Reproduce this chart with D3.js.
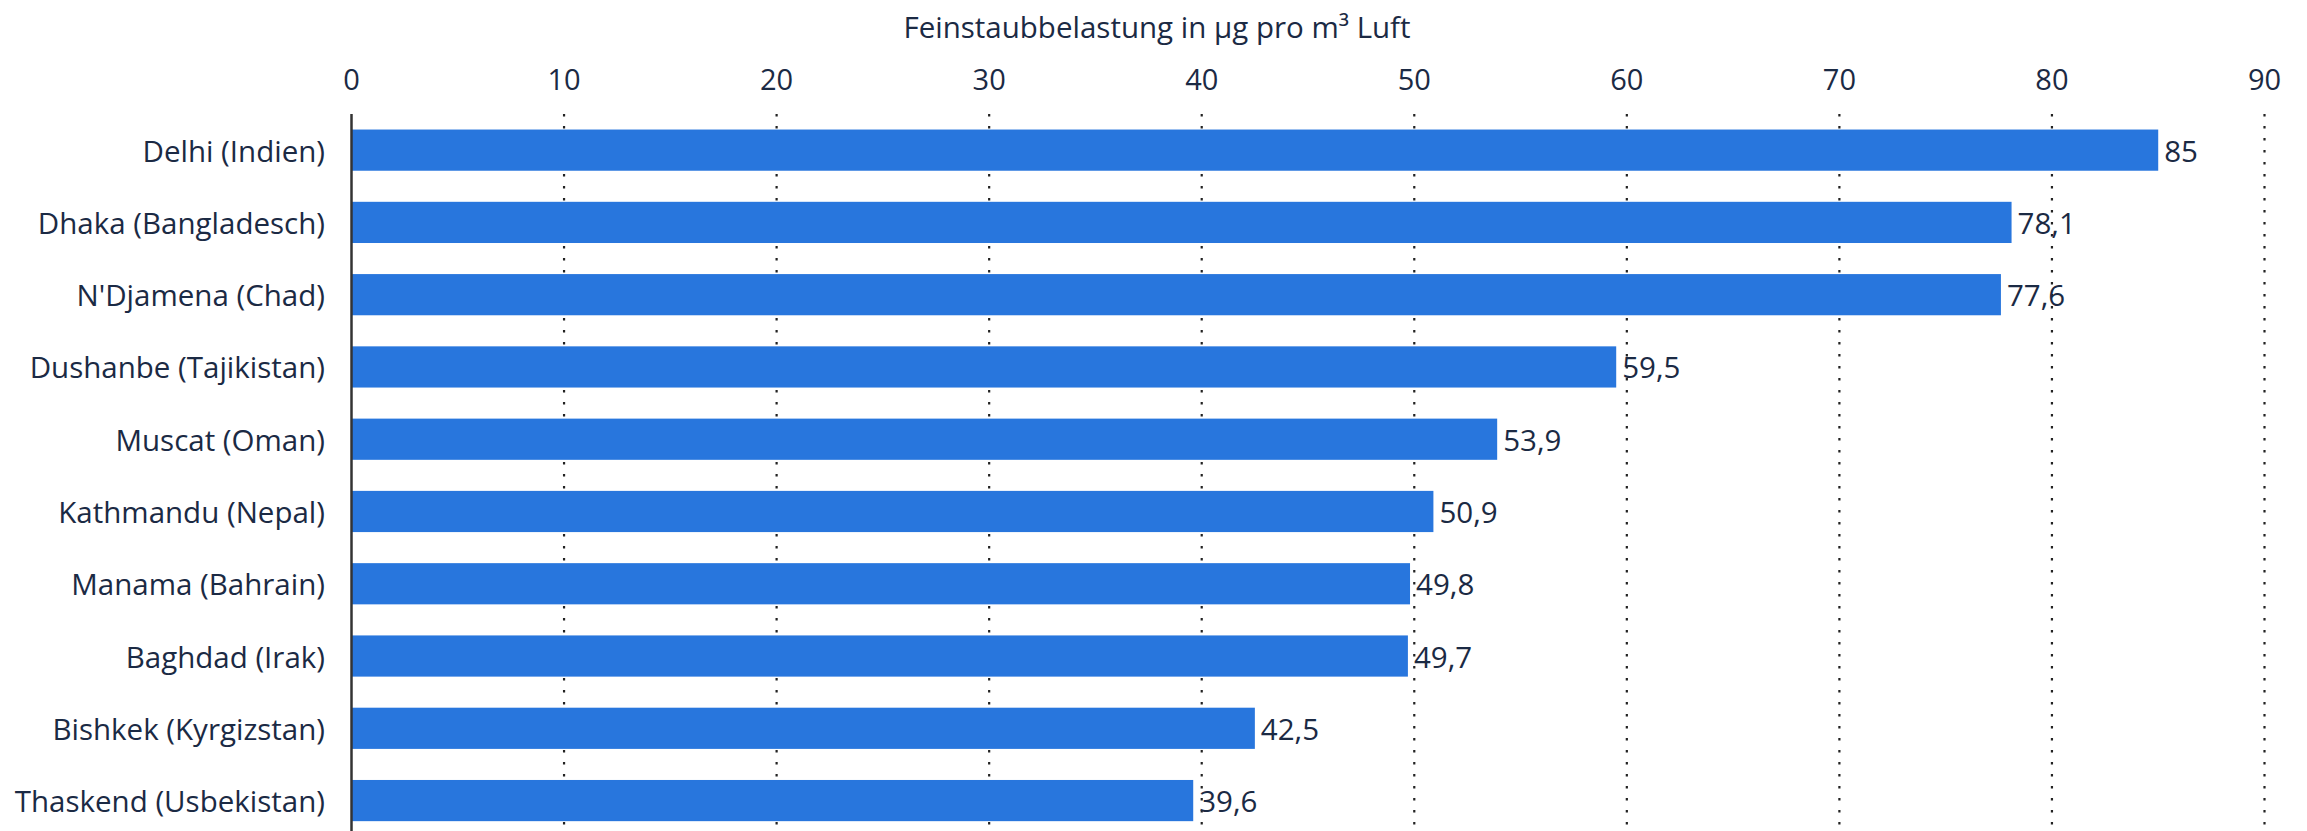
<!DOCTYPE html>
<html>
<head>
<meta charset="utf-8">
<script src="https://cdn.jsdelivr.net/npm/d3@7"></script>
<style>
  body { margin: 0; background: #fff; }
  text { font-family: "Open Sans", sans-serif; fill: #1b2a44; }
</style>
</head>
<body>
<div id="chart"></div>
<script>
const cities = ["Delhi (Indien)", "Dhaka (Bangladesch)", "N'Djamena (Chad)", "Dushanbe (Tajikistan)",
  "Muscat (Oman)", "Kathmandu (Nepal)", "Manama (Bahrain)", "Baghdad (Irak)",
  "Bishkek (Kyrgizstan)", "Thaskend (Usbekistan)"];
const values = [85, 78.1, 77.6, 59.5, 53.9, 50.9, 49.8, 49.7, 42.5, 39.6];
const xTicks = [0, 10, 20, 30, 40, 50, 60, 70, 80, 90];
const axisTitle = "Feinstaubbelastung in µg pro m³ Luft";

const W = 2307, H = 831;
const x0 = 351.5, x1 = 2264.5;

const svg = d3.select("#chart").append("svg")
  .attr("width", W).attr("height", H);

const x = d3.scaleLinear().domain([0, 90]).range([x0, x1]);
const y = d3.scaleBand().domain(cities).range([114, 836.7])
  .paddingInner(0.43).paddingOuter(0.215);

const fmt = v => String(v).replace(".", ",");

// dotted gridlines
svg.append("g").selectAll("line")
  .data(xTicks.slice(1))
  .join("line")
  .attr("x1", d => x(d)).attr("x2", d => x(d))
  .attr("y1", 114).attr("y2", H)
  .style("stroke", "#222")
  .style("stroke-width", 2.2)
  .style("stroke-dasharray", "2.5,9.5");

// top tick labels
svg.append("g").selectAll("text")
  .data(xTicks)
  .join("text")
  .attr("x", d => x(d))
  .attr("y", 78)
  .attr("text-anchor", "middle")
  .attr("dominant-baseline", "central")
  .style("font-size", "29px")
  .text(d => d);

svg.append("text")
  .attr("x", 1157)
  .attr("y", 26)
  .attr("text-anchor", "middle")
  .attr("dominant-baseline", "central")
  .style("font-size", "29.5px")
  .text(axisTitle);

// bars
svg.append("g").selectAll("rect")
  .data(values)
  .join("rect")
  .attr("x", x(0))
  .attr("y", (d, i) => y(cities[i]))
  .attr("width", d => x(d) - x(0))
  .attr("height", y.bandwidth())
  .style("fill", "#2876dd");

// value labels
svg.append("g").selectAll("text")
  .data(values)
  .join("text")
  .attr("x", d => x(d) + 6)
  .attr("y", (d, i) => y(cities[i]) + y.bandwidth() / 2)
  .attr("dominant-baseline", "central")
  .style("font-size", "29.5px")
  .text(d => fmt(d));

// category labels
svg.append("g").selectAll("text")
  .data(cities)
  .join("text")
  .attr("x", 325)
  .attr("y", d => y(d) + y.bandwidth() / 2)
  .attr("text-anchor", "end")
  .attr("dominant-baseline", "central")
  .style("font-size", "29.5px")
  .text(d => d);

// axis line at zero
svg.append("line")
  .attr("x1", x(0)).attr("x2", x(0))
  .attr("y1", 114).attr("y2", H)
  .style("stroke", "#333")
  .style("stroke-width", 2.5);
</script>
</body>
</html>
